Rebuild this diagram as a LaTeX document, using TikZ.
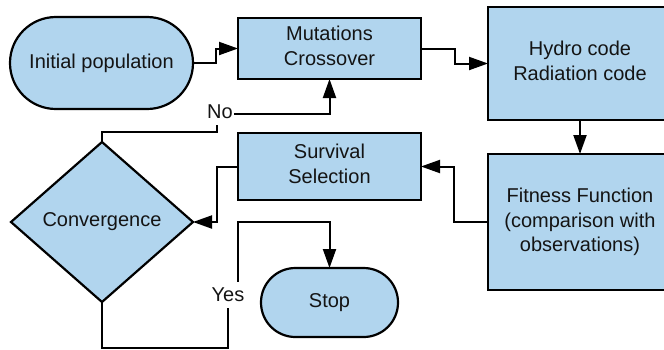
\documentclass[tikz,border=0pt]{standalone}
\usepackage{fontspec}
\setmainfont{Liberation Sans}
\usetikzlibrary{arrows.meta,shapes.geometric}
\definecolor{boxfill}{RGB}{177,213,238}
\definecolor{inkc}{RGB}{20,20,20}
\begin{document}
\begin{tikzpicture}[x=1pt,y=-1pt,
  every node/.style={font=\fontsize{20}{24.5}\selectfont, text=inkc, align=center, outer sep=0pt, inner sep=0pt},
  procbox/.style={draw=black, line width=2.2pt, fill=boxfill, rectangle},
  raised/.style={text depth=6pt},
  termbox/.style={draw=black, line width=2.2pt, fill=boxfill, rectangle},
  decbox/.style={draw=black, line width=2.2pt, fill=boxfill, diamond, aspect=1.1375},
  flow/.style={draw=black, line width=2pt, -{Triangle[length=19pt,width=13pt]}},
  edgelabel/.style={fill=white, inner sep=1.5pt, minimum height=26pt}
]
\useasboundingbox (0,0) rectangle (664,349);

% shapes
\node[termbox, rounded corners=45.9pt, minimum width=183pt, minimum height=92pt] (init) at (101.5,63) {Initial population};
\node[procbox, raised, minimum width=183pt, minimum height=61pt] (mut) at (329.5,48.5) {Mutations\\Crossover};
\node[procbox, raised, minimum width=184pt, minimum height=113pt] (hydro) at (580,63.5) {Hydro code\\Radiation code};
\node[procbox, minimum width=184pt, minimum height=136pt] (fit) at (580,222) {Fitness Function\\(comparison with\\observations)};
\node[procbox, raised, minimum width=183pt, minimum height=67pt] (surv) at (329.5,166.5) {Survival\\Selection};
\node[decbox, minimum width=182pt, minimum height=160pt] (conv) at (102,222) {Convergence};
\node[termbox, rounded corners=34.4pt, minimum width=137pt, minimum height=69pt] (stop) at (329.5,302.5) {Stop};

% bend points of the two decision branches
\coordinate (nocorner) at (217,114);
\coordinate (ylow) at (228,294);
\coordinate (yhigh) at (238,294);
\coordinate (ytop) at (238,222);

% connectors
\draw[flow] (init.east) -- ++(23,0) |- (mut.west);
\draw[flow] (mut.east) -- ++(34,0) |- (hydro.west);
\draw[flow] (hydro.south) -- (fit.north);
\draw[flow] (fit.west) -- ++(-34,0) |- (surv.east);
\draw[flow] (surv.west) -- ++(-21,0) |- (conv.east);
\draw[flow] (conv.north) -- ++(0,-10) -| (nocorner) -| (mut.south);
\draw[flow] (conv.south) -- (102,347.5) -| (ylow) -- (yhigh) -- (ytop) -| (stop.north);

% branch labels
\node[edgelabel] (nolbl) at (220,112) {No};
\node[edgelabel] (yeslbl) at (228,295) {Yes};
\end{tikzpicture}
\end{document}
